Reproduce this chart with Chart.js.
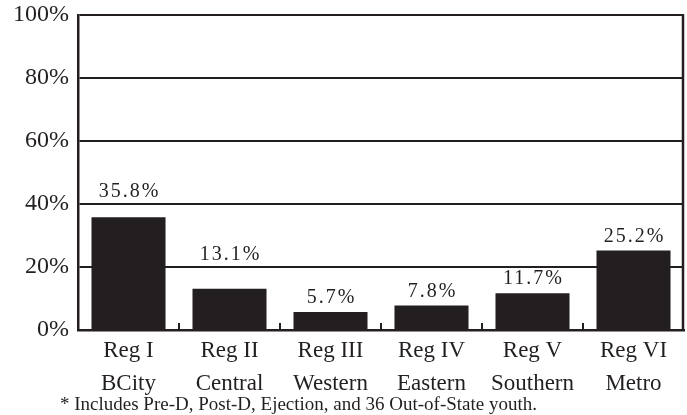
<!DOCTYPE html>
<html>
<head>
<meta charset="utf-8">
<script src="https://cdn.jsdelivr.net/npm/chart.js@4/dist/chart.umd.min.js"></script>
<style>
  html, body { margin: 0; padding: 0; background: #ffffff; }
  #wrap { width: 687px; height: 415px; position: relative; }
</style>
</head>
<body>
<div id="wrap"><canvas id="c" width="687" height="415"></canvas></div>
<script>
const regionNames = ["Reg I", "Reg II", "Reg III", "Reg IV", "Reg V", "Reg VI"];
const regionAreas = ["BCity", "Central", "Western", "Eastern", "Southern", "Metro"];
const percentValues = [35.8, 13.1, 5.7, 7.8, 11.7, 25.2];
const yTickValues = [0, 20, 40, 60, 80, 100];
const footnoteText = "* Includes Pre-D, Post-D, Ejection, and 36 Out-of-State youth.";

const INK = "#231f20";
const SERIF = "'Liberation Serif', 'DejaVu Serif', serif";

const labels = regionNames.map((n, i) => [n, regionAreas[i]]);

const framePlugin = {
  id: "frame",
  afterDraw(chart) {
    const ctx = chart.ctx;
    const a = chart.chartArea;
    const xs = chart.scales.x;
    const ys = chart.scales.y;
    ctx.save();
    ctx.strokeStyle = INK;
    // right border
    ctx.lineWidth = 2.5;
    ctx.beginPath();
    ctx.moveTo(a.right - 1, a.top - 1);
    ctx.lineTo(a.right - 1, a.bottom + 1);
    ctx.stroke();
    // category separators (short inward ticks)
    ctx.lineWidth = 2;
    const n = percentValues.length;
    for (let i = 0; i < n - 1; i++) {
      const xm = (xs.getPixelForValue(i) + xs.getPixelForValue(i + 1)) / 2;
      ctx.beginPath();
      ctx.moveTo(xm, a.bottom);
      ctx.lineTo(xm, a.bottom - 7);
      ctx.stroke();
    }
    // value labels
    ctx.fillStyle = INK;
    ctx.font = "20px " + SERIF;
    ctx.textAlign = "center";
    ctx.textBaseline = "middle";
    try { ctx.letterSpacing = "2px"; } catch (e) {}
    const gridYs = yTickValues.map(v => ys.getPixelForValue(v));
    const meta = chart.getDatasetMeta(0);
    meta.data.forEach((bar, i) => {
      let cy = bar.y - 14;
      for (const gy of gridYs) {
        if (Math.abs(cy - gy) < 10) { cy = gy - 12.5; }
      }
      ctx.fillText(percentValues[i].toFixed(1) + "%", bar.x + 1, cy);
    });
    try { ctx.letterSpacing = "0px"; } catch (e) {}
    // footnote
    ctx.font = "19px " + SERIF;
    ctx.textAlign = "left";
    ctx.textBaseline = "middle";
    ctx.fillText(footnoteText, 60, 405);
    ctx.restore();
  }
};

new Chart(document.getElementById("c"), {
  type: "bar",
  data: {
    labels: labels,
    datasets: [{
      data: percentValues,
      backgroundColor: INK,
      borderWidth: 0,
      barPercentage: 0.733,
      categoryPercentage: 1.0
    }]
  },
  options: {
    responsive: false,
    animation: false,
    devicePixelRatio: 1,
    layout: { padding: { top: 15, right: 3, left: 0, bottom: 0 } },
    plugins: {
      legend: { display: false },
      tooltip: { enabled: false }
    },
    scales: {
      x: {
        grid: { display: false, drawTicks: false },
        border: { display: true, color: INK, width: 2.5 },
        ticks: {
          color: INK,
          font: { family: SERIF, size: 23, lineHeight: 1.45 },
          padding: 4,
          maxRotation: 0,
          autoSkip: false
        },
        afterFit(s) { s.height = 85; s.paddingLeft = 0; s.paddingRight = 0; }
      },
      y: {
        min: 0,
        max: 100,
        afterBuildTicks(s) { s.ticks = yTickValues.map(v => ({ value: v })); },
        grid: { color: INK, lineWidth: 2, drawTicks: false },
        border: { display: true, color: INK, width: 2.5 },
        ticks: {
          color: INK,
          font: { family: SERIF, size: 24 },
          padding: 9,
          callback: v => v + "%"
        },
        afterFit(s) { s.width = 78; s.paddingTop = 0; s.paddingBottom = 0; }
      }
    }
  },
  plugins: [framePlugin]
});
</script>
</body>
</html>
